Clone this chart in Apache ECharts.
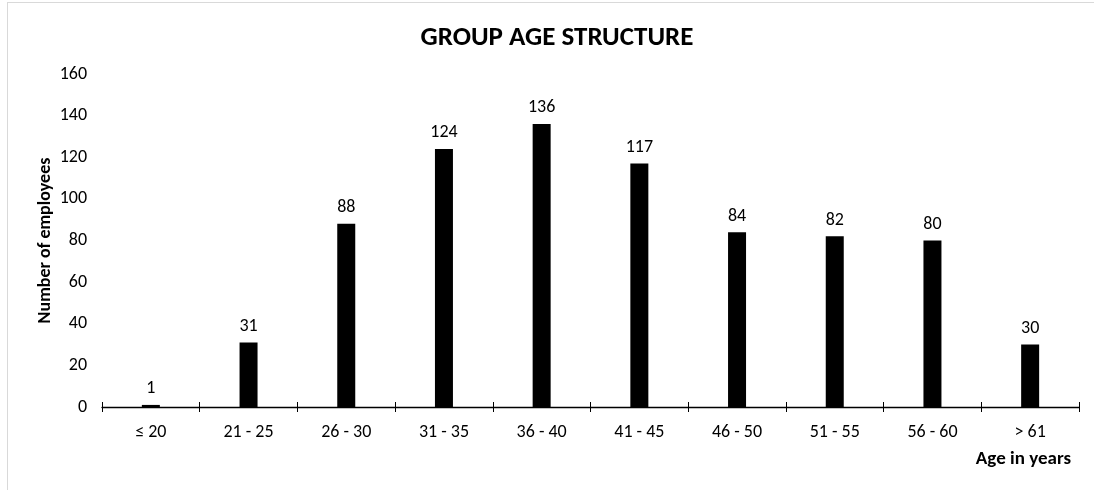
<!DOCTYPE html>
<html><head><meta charset="utf-8">
<script src="https://cdn.jsdelivr.net/npm/echarts@6/dist/echarts.min.js"></script>
<style>
html,body{margin:0;padding:0;background:#fff;}
#frame{position:absolute;left:7px;top:2px;width:1100px;height:500px;border-left:1.5px solid #d9d9d9;border-top:1.5px solid #d9d9d9;box-sizing:border-box;}
#c{position:absolute;left:0;top:0;width:1094px;height:490px;}
</style></head>
<body>
<div id="frame"></div>
<div id="c"></div>
<script>
const categories = ['≤ 20','21 - 25','26 - 30','31 - 35','36 - 40','41 - 45','46 - 50','51 - 55','56 - 60','> 61'];
const employees = [1,31,88,124,136,117,84,82,80,30];
const yTicks = {min:0, max:160, interval:20};
const FONT = 'Carlito, Lato, "Open Sans", sans-serif';
const chart = echarts.init(document.getElementById('c'));
chart.setOption({
  animation:false,
  textStyle:{fontFamily:FONT},
  title:{text:'GROUP AGE STRUCTURE', left:552, textAlign:'center', top:20,
    textStyle:{fontFamily:FONT, fontSize:27, fontWeight:'bold', color:'#000'}},
  grid:{left:102, right:15, top:74, bottom:83},
  xAxis:[{
    type:'category', data:categories,
    name:'Age in years', nameLocation:'end',
    nameTextStyle:{fontFamily:FONT, fontSize:19, fontWeight:'bold', color:'#000', align:'right', verticalAlign:'top', padding:[43,8,0,0]},
    nameGap:0,
    axisLine:{lineStyle:{color:'#000', width:1.3}},
    axisTick:{show:true, length:5, alignWithLabel:false, lineStyle:{color:'#000'}},
    axisLabel:{fontFamily:FONT, fontSize:18, color:'#000', margin:16}
  },{
    type:'category', data:categories, position:'bottom',
    axisLine:{show:false},
    axisTick:{show:true, inside:true, length:5, lineStyle:{color:'#000'}},
    axisLabel:{show:false}
  }],
  yAxis:{
    type:'value', min:yTicks.min, max:yTicks.max, interval:yTicks.interval,
    name:'Number of employees', nameLocation:'middle', nameGap:48, nameRotate:90,
    nameMoveOverlap:false,
    nameTextStyle:{fontFamily:FONT, fontSize:18, fontWeight:'bold', color:'#000'},
    axisLine:{show:false}, axisTick:{show:false}, splitLine:{show:false},
    axisLabel:{fontFamily:FONT, fontSize:18, color:'#000', margin:15}
  },
  series:[{
    type:'bar', data:employees, barWidth:18,
    itemStyle:{color:'#000'},
    label:{show:true, position:'top', distance:7, fontFamily:FONT, fontSize:18, color:'#000'}
  }]
});
</script>
</body></html>
